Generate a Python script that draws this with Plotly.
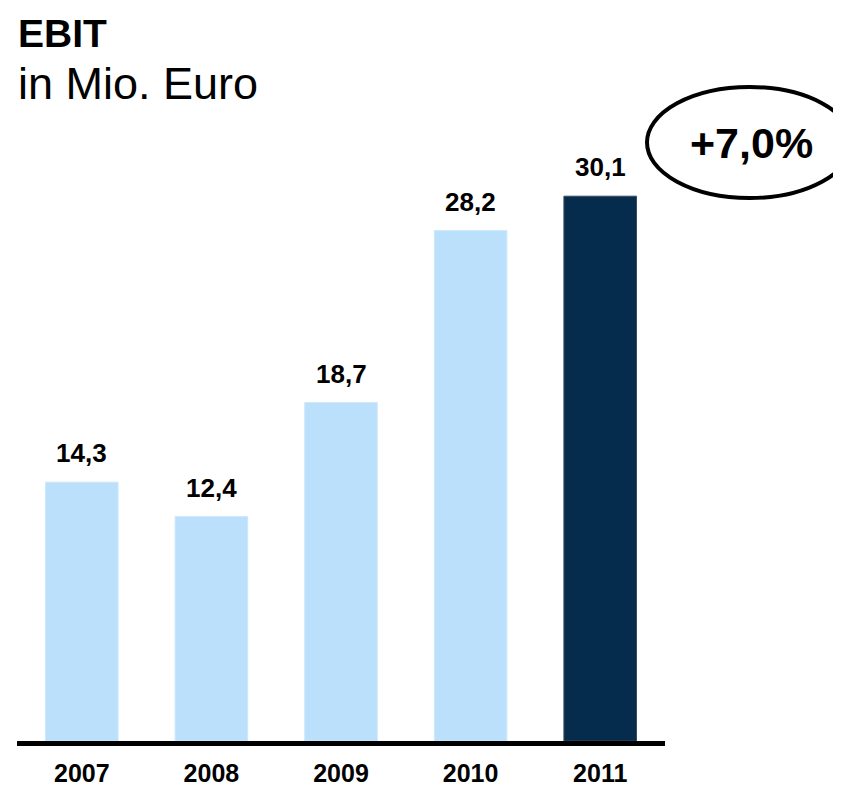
import plotly.graph_objects as go

years = ['2007', '2008', '2009', '2010', '2011']
ebit = [14.3, 12.4, 18.7, 28.2, 30.1]
value_labels = ['14,3', '12,4', '18,7', '28,2', '30,1']
growth_label = '+7,0%'

LIGHT = '#BBE0FC'
DARK = '#052B4D'
FONT = 'Liberation Sans, Arial, sans-serif'

# the page body adds an 8px margin, so work in shifted pixel coordinates
OFF = 8
W, H = 841 - OFF, 789 - OFF
X0, X1 = 17 - OFF, 665 - OFF
Y_TOP, Y_BASE = 108 - OFF, 741 - OFF
PX_PER_UNIT = 18.1


def px_x(px):
    return (px - OFF - X0) / (X1 - X0)


def px_y(py):
    return (Y_BASE - (py - OFF)) / (Y_BASE - Y_TOP)


colors = [LIGHT] * (len(years) - 1) + [DARK]
edges = ['#CDE8FD'] * (len(years) - 1) + ['#3A4A5A']

fig = go.Figure()
fig.add_trace(go.Bar(
    x=years,
    y=ebit,
    marker=dict(color=colors, line=dict(width=1, color=edges)),
    hoverinfo='skip'
))

# value labels above bars
for i, (v, lab) in enumerate(zip(ebit, value_labels)):
    fig.add_annotation(
        x=i, y=v, text=f'<b>{lab}</b>', showarrow=False,
        yanchor='bottom', yshift=12,
        font=dict(family=FONT, size=26, color='black')
    )

# title
fig.add_annotation(
    xref='paper', yref='paper', x=px_x(16), y=px_y(33),
    text='<b>EBIT</b>', showarrow=False, xanchor='left', yanchor='middle',
    font=dict(family=FONT, size=39, color='black')
)
fig.add_annotation(
    xref='paper', yref='paper', x=px_x(16), y=px_y(83),
    text='in Mio. Euro', showarrow=False, xanchor='left', yanchor='middle',
    font=dict(family=FONT, size=45, color='black')
)

# growth bubble
fig.add_shape(
    type='circle', xref='paper', yref='paper',
    x0=px_x(647), x1=px_x(852), y0=px_y(198), y1=px_y(87),
    line=dict(color='black', width=4)
)
fig.add_annotation(
    xref='paper', yref='paper', x=px_x(751), y=px_y(143),
    text=f'<b>{growth_label}</b>', showarrow=False,
    xanchor='center', yanchor='middle',
    font=dict(family=FONT, size=43, color='black')
)

fig.update_layout(
    width=W,
    height=H,
    margin=dict(l=X0, r=W - X1, t=Y_TOP, b=H - Y_BASE, pad=0, autoexpand=False),
    plot_bgcolor='white',
    paper_bgcolor='white',
    bargap=0.44,
    showlegend=False,
    xaxis=dict(
        type='category', automargin=False, range=[-0.5, len(years) - 0.5],
        showline=True, linecolor='black', linewidth=5,
        ticks='', showgrid=False, zeroline=False, ticklabelstandoff=6,
        tickfont=dict(family=FONT, size=25, color='black'),
        tickprefix='<b>', ticksuffix='</b>'
    ),
    yaxis=dict(
        range=[0, (Y_BASE - Y_TOP) / PX_PER_UNIT], automargin=False,
        visible=False, showgrid=False, zeroline=False
    )
)

fig.write_html('out.html')
